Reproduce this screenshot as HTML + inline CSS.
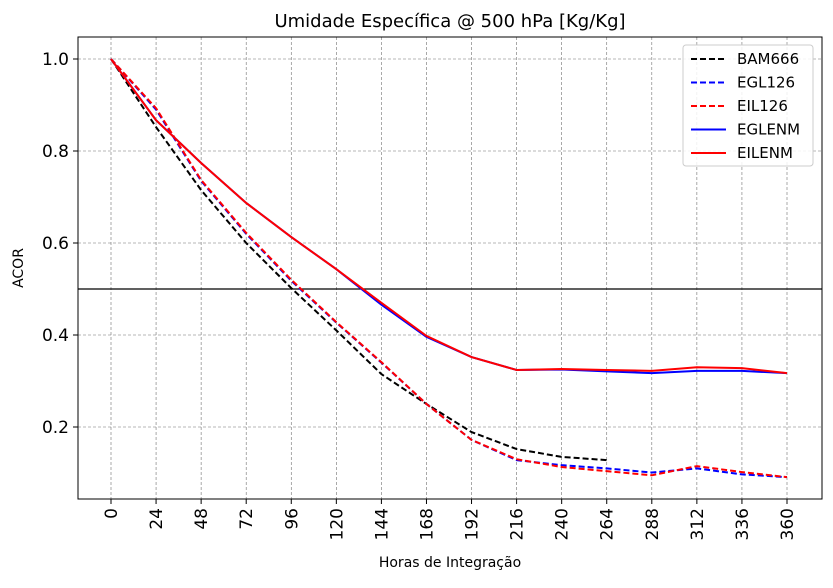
<!DOCTYPE html>
<html><head><meta charset="utf-8"><style>
body{margin:0;background:#fff;}
svg text{font-family:"DejaVu Sans","Liberation Sans",sans-serif;}
</style></head><body>
<svg id="c" width="833" height="583" xmlns="http://www.w3.org/2000/svg"></svg>
<script>
const hours=[0,24,48,72,96,120,144,168,192,216,240,264,288,312,336,360];
const bam666=[1.0,0.852,0.715,0.600,0.502,0.410,0.315,0.250,0.189,0.152,0.135,0.128];
const egl126=[1.0,0.890,0.735,0.620,0.518,0.427,0.340,0.250,0.172,0.128,0.117,0.110,0.101,0.110,0.097,0.091];
const eil126=[1.0,0.893,0.737,0.622,0.520,0.428,0.341,0.250,0.172,0.130,0.113,0.104,0.095,0.115,0.102,0.091];
const eglenm=[1.0,0.867,0.774,0.687,0.613,0.543,0.466,0.396,0.352,0.324,0.325,0.321,0.317,0.322,0.322,0.317];
const eilenm=[1.0,0.867,0.774,0.687,0.613,0.543,0.470,0.398,0.352,0.324,0.326,0.324,0.322,0.330,0.328,0.317];
const yTicks=[0.2,0.4,0.6,0.8,1.0];
const refLine=0.5;
const NS="http://www.w3.org/2000/svg";
const svg=document.getElementById('c');
const L=78,R=822,T=37,B=499;
const xs=h=>111+(h/360)*676;
const ys=v=>59+(1-v)*460;
function mk(tag,a,p){const e=document.createElementNS(NS,tag);for(const k in a)e.setAttribute(k,a[k]);(p||svg).appendChild(e);return e;}
hours.forEach(h=>{const g=mk('line',{x1:xs(h),x2:xs(h),y1:T,y2:B,stroke:'#707070','stroke-width':0.6,'stroke-dasharray':'3,2'});


mk('line',{x1:xs(h),x2:xs(h),y1:B,y2:B+5,stroke:'#000'});
const lb=mk('text',{x:0,y:0,transform:`translate(${xs(h)+6},${B+9}) rotate(-90)`,'text-anchor':'end','font-size':17});
lb.textContent=h;

});
yTicks.forEach(v=>{const g=mk('line',{x1:L,x2:R,y1:ys(v),y2:ys(v),stroke:'#707070','stroke-width':0.6,'stroke-dasharray':'3,2'});


mk('line',{x1:L-5,x2:L,y1:ys(v),y2:ys(v),stroke:'#000'});
const lb=mk('text',{x:L-9,y:ys(v)+6,'text-anchor':'end','font-size':17});
lb.textContent=v.toFixed(1);

});
const rl=mk('line',{x1:L,x2:R,y1:ys(refLine),y2:ys(refLine),stroke:'#000','stroke-width':1.3});


function series(vals,color,dash,name){const pts=vals.map((v,i)=>xs(hours[i])+','+ys(v)).join(' ');
const p=mk('polyline',{points:pts,fill:'none',stroke:color,'stroke-width':2,'stroke-dasharray':dash?'6,3':'none'});

}
series(bam666,'#000',true,'series-bam666');
series(egl126,'#0000ff',true,'series-egl126');
series(eil126,'#ff0000',true,'series-eil126');
series(eglenm,'#0000ff',false,'series-eglenm');
series(eilenm,'#ff0000',false,'series-eilenm');
const fr=mk('rect',{x:L,y:T,width:R-L,height:B-T,fill:'none',stroke:'#000','stroke-width':1});


const tt=mk('text',{x:450,y:27,'text-anchor':'middle','font-size':18});
tt.textContent='Umidade Específica @ 500 hPa [Kg/Kg]';


const yl=mk('text',{x:0,y:0,transform:'translate(23,268) rotate(-90)','text-anchor':'middle','font-size':14});
yl.textContent='ACOR';


const xl=mk('text',{x:450,y:567,'text-anchor':'middle','font-size':14});
xl.textContent='Horas de Integração';


const lg=mk('rect',{x:683,y:45,width:130,height:121,rx:3,fill:'#fff','fill-opacity':0.85,stroke:'#ccc'});


const legNames=['BAM666','EGL126','EIL126','EGLENM','EILENM'];
const legCols=['#000','#0000ff','#ff0000','#0000ff','#ff0000'];
legNames.forEach((n,i)=>{const y=59+i*23.5;
mk('line',{x1:691,x2:726,y1:y,y2:y,stroke:legCols[i],'stroke-width':2,'stroke-dasharray':i<3?'6,3':'none'});
const t=mk('text',{x:737,y:y+5,'font-size':15});t.textContent=n;

});
</script>
</body></html>
